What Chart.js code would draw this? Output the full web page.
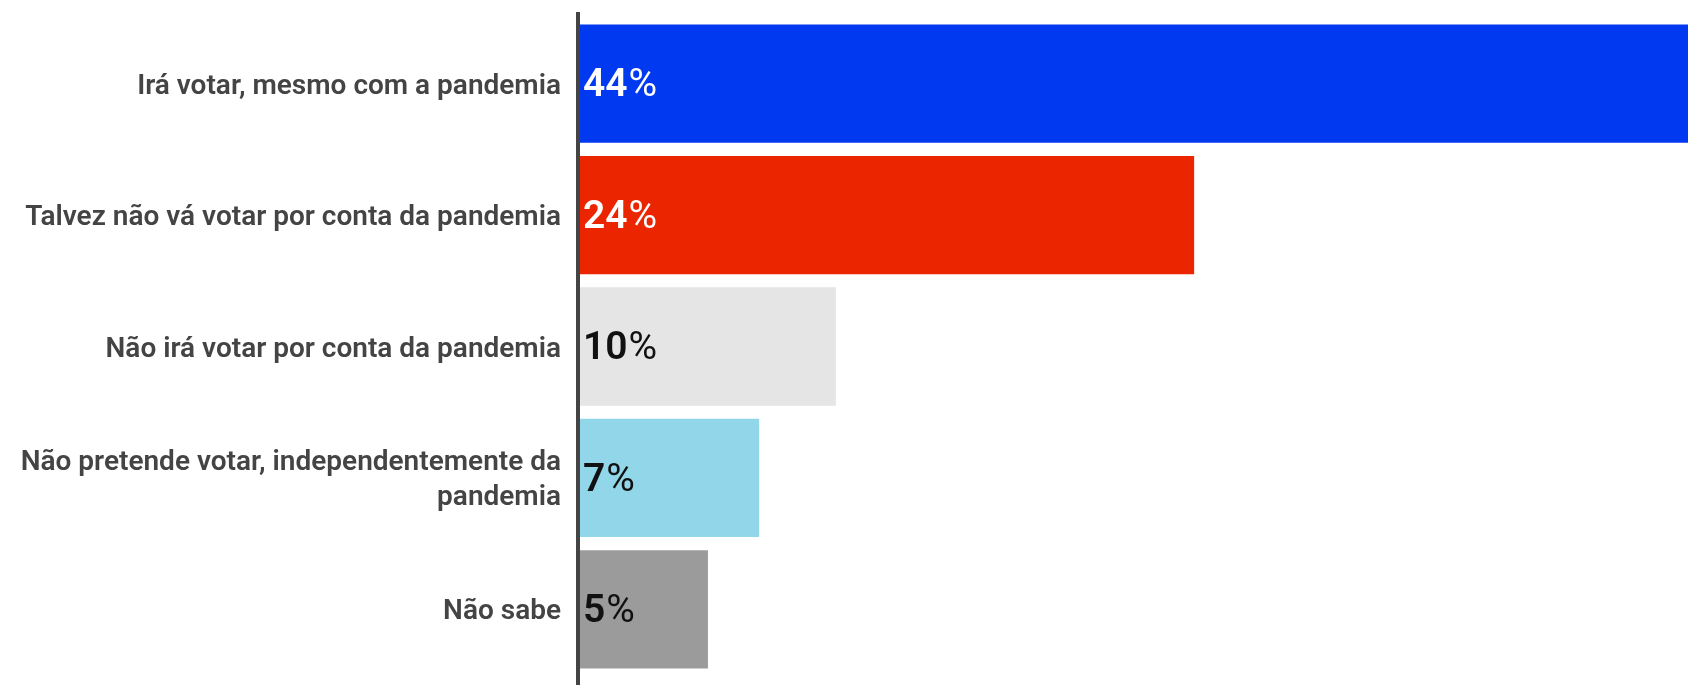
<!DOCTYPE html>
<html>
<head>
<meta charset="utf-8">
<script src="https://cdn.jsdelivr.net/npm/chart.js@4"></script>
<style>
  html, body { margin: 0; padding: 0; background: #fff; }
  #wrap { width: 1688px; height: 685px; position: relative; }
</style>
</head>
<body>
<div id="wrap"><canvas id="votingChart"></canvas></div>
<script>
const categories = [
    'Irá votar, mesmo com a pandemia',
    'Talvez não vá votar por conta da pandemia',
    'Não irá votar por conta da pandemia',
    ['Não pretende votar, independentemente da', 'pandemia'],
    'Não sabe'
];
const values = [44, 24, 10, 7, 5];
const barColors = ['#0039f0', '#eb2500', '#e5e5e5', '#92d7e9', '#9b9b9b'];
const valueColors = ['#ffffff', '#ffffff', '#111111', '#111111', '#111111'];

document.addEventListener('DOMContentLoaded', function() {
    const ctx = document.getElementById('votingChart').getContext('2d');

    // left axis line, drawn taller than the plot area
    const axisLine = {
        id: 'axisLine',
        afterDatasetsDraw(chart) {
            const c = chart.ctx;
            const x = chart.chartArea.left - 2;
            c.save();
            c.strokeStyle = '#444444';
            c.lineWidth = 4;
            c.beginPath();
            c.moveTo(x, 12);
            c.lineTo(x, chart.height);
            c.stroke();
            c.restore();
        }
    };

    // percentage labels at the start of each bar
    const valueLabels = {
        id: 'valueLabels',
        afterDatasetsDraw(chart) {
            const c = chart.ctx;
            const meta = chart.getDatasetMeta(0);
            c.save();
            c.textBaseline = 'middle';
            c.textAlign = 'left';
            meta.data.forEach((bar, i) => {
                const num = String(values[i]);
                let x = chart.chartArea.left + 3;
                const y = bar.y + 3;
                c.fillStyle = valueColors[i];
                c.font = '600 39px Roboto';
                c.fillText(num, x, y);
                x += c.measureText(num).width + 1;
                c.font = '400 39px Roboto';
                c.fillText('%', x, y);
            });
            c.restore();
        }
    };

    new Chart(ctx, {
        type: 'bar',
        data: {
            labels: categories,
            datasets: [{
                data: values,
                backgroundColor: barColors,
                borderWidth: 0,
                barPercentage: 0.9,
                categoryPercentage: 1.0
            }]
        },
        options: {
            indexAxis: 'y',
            responsive: true,
            maintainAspectRatio: false,
            animation: false,
            layout: { padding: { top: 18, bottom: 10, left: 0, right: 0 } },
            plugins: {
                legend: { display: false },
                tooltip: { enabled: false }
            },
            scales: {
                x: {
                    display: false,
                    min: 0,
                    max: 43.3
                },
                y: {
                    grid: { display: false, drawTicks: false },
                    border: { display: false },
                    afterFit: function(scale) {
                        scale.width = 580;
                        scale.paddingTop = 0;
                        scale.paddingBottom = 0;
                    },
                    ticks: {
                        padding: 19,
                        labelOffset: 3,
                        color: '#444444',
                        font: { family: 'Roboto', size: 28, weight: '600', lineHeight: 1.25 }
                    }
                }
            }
        },
        plugins: [axisLine, valueLabels]
    });
});
</script>
</body>
</html>
